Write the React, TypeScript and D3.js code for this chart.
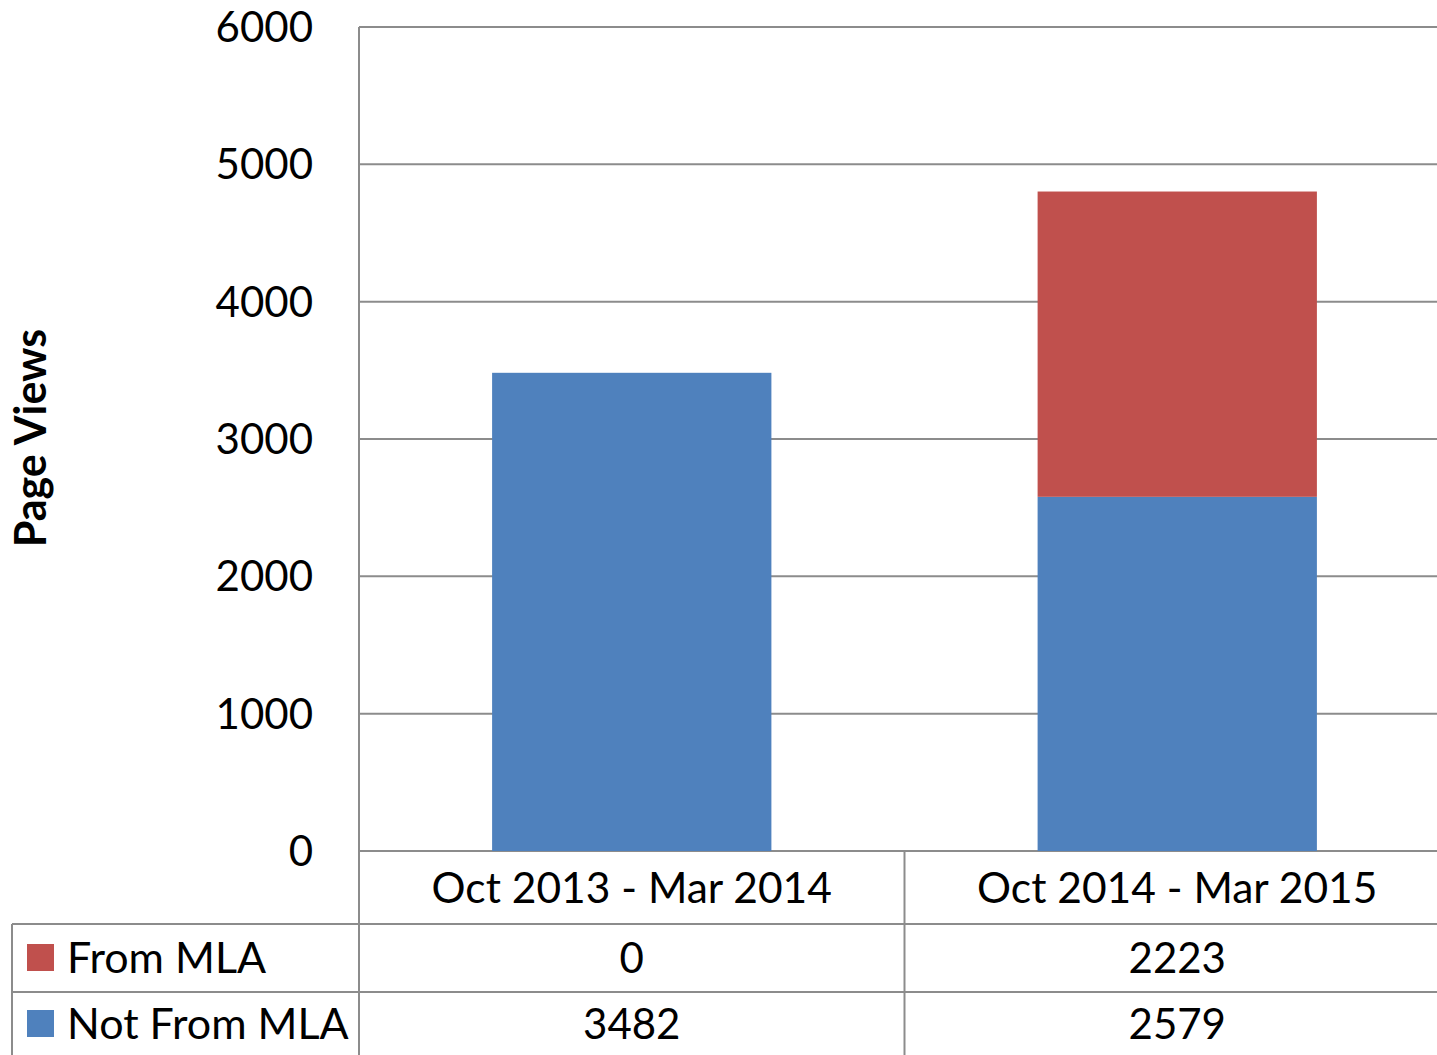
import React from "react";
import * as d3 from "d3";

const categories = ["Oct 2013 - Mar 2014", "Oct 2014 - Mar 2015"];
const seriesNames = ["From MLA", "Not From MLA"];
const fromMla = [0, 2223];
const notFromMla = [3482, 2579];
const yTicks = [0, 1000, 2000, 3000, 4000, 5000, 6000];
const colors = ["#C0504D", "#4F81BD"];

const W = 1437;
const H = 1055;
const FONT = "Lato, 'Open Sans', sans-serif";

export default function App() {
  const plotLeft = 359;
  const plotRight = 1437;
  const plotTop = 27;
  const plotBottom = 851;
  const tableLeft = 12;
  const rowLines = [924, 992];

  const y = d3.scaleLinear().domain([0, 6000]).range([plotBottom, plotTop]);
  const x = d3
    .scaleBand<string>()
    .domain(categories)
    .range([plotLeft, 1450])
    .paddingInner(0)
    .paddingOuter(0);
  const barW = x.bandwidth() * 0.512;

  const rows = categories.map((c, i) => ({
    cat: c,
    "Not From MLA": notFromMla[i],
    "From MLA": fromMla[i],
  }));
  const stack = d3.stack<any>().keys(["Not From MLA", "From MLA"]);
  const layers = stack(rows);
  const colorOf = (k: string) => (k === "From MLA" ? colors[0] : colors[1]);

  const grid = "#8c8c8c";
  const tableValues = [fromMla, notFromMla];
  const rowMid = [958, 1024];
  const mid = (c: string) => (x(c) as number) + x.bandwidth() / 2;

  return (
    <svg width={W} height={H} style={{ position: "absolute", left: 0, top: 0, background: "#fff" }}>
      <rect width={W} height={H} fill="#fff" />
      {/* gridlines */}
      {yTicks.map((t) => (
        <line key={t} x1={plotLeft} x2={plotRight} y1={y(t)} y2={y(t)} stroke={grid} strokeWidth={2} />
      ))}
      {yTicks.map((t) => (
        <text
          key={"l" + t}
          x={313}
          y={y(t)}
          dy="0.36em"
          textAnchor="end"
          fontFamily={FONT}
          fontSize={42}
          fill="#000"
        >
          {t}
        </text>
      ))}
      {/* bars */}
      {layers.map((layer) =>
        layer.map((d, i) => (
          <rect
            key={layer.key + i}
            x={mid(categories[i]) - barW / 2}
            y={y(d[1])}
            width={barW}
            height={y(d[0]) - y(d[1])}
            fill={colorOf(layer.key)}
          />
        ))
      )}
      {/* plot & table borders */}
      <line x1={plotLeft} x2={plotLeft} y1={plotTop} y2={H} stroke={grid} strokeWidth={2} />
      <line x1={x(categories[1])} x2={x(categories[1])} y1={plotBottom} y2={H} stroke={grid} strokeWidth={2} />
      <line x1={tableLeft} x2={tableLeft} y1={rowLines[0]} y2={H} stroke={grid} strokeWidth={2} />
      {rowLines.map((ry) => (
        <line key={ry} x1={tableLeft} x2={plotRight} y1={ry} y2={ry} stroke={grid} strokeWidth={2} />
      ))}
      {/* category labels */}
      {categories.map((c) => (
        <text
          key={c}
          x={mid(c)}
          y={888}
          dy="0.36em"
          textAnchor="middle"
          fontFamily={FONT}
          fontSize={42.5}
        >
          {c}
        </text>
      ))}
      {/* table rows */}
      {seriesNames.map((s, r) => (
        <g key={s}>
          <rect x={27} y={rowMid[r] - 14} width={27} height={27} fill={colors[r]} />
          <text x={67} y={rowMid[r]} dy="0.36em" fontFamily={FONT} fontSize={43}>
            {s}
          </text>
          {categories.map((c, i) => (
            <text
              key={c}
              x={mid(c)}
              y={rowMid[r]}
              dy="0.36em"
              textAnchor="middle"
              fontFamily={FONT}
              fontSize={42}
            >
              {tableValues[r][i]}
            </text>
          ))}
        </g>
      ))}
      {/* axis title */}
      <text
        transform={`translate(46, 438) rotate(-90)`}
        textAnchor="middle"
        fontFamily={FONT}
        fontWeight="bold"
        fontSize={43}
      >
        Page Views
      </text>
    </svg>
  );
}
